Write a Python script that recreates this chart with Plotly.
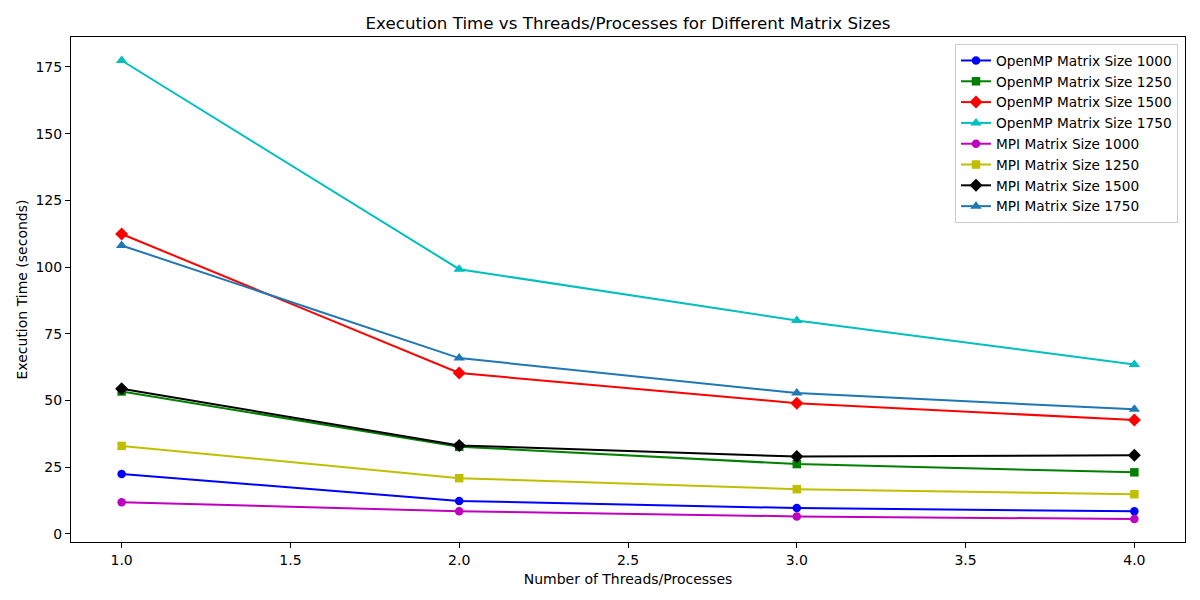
import plotly.graph_objects as go

threads = [1, 2, 3, 4]

omp_1000 = [22.5, 12.4, 9.7, 8.5]
omp_1250 = [53.4, 32.7, 26.2, 23.1]
omp_1500 = [112.4, 60.3, 49.0, 42.7]
omp_1750 = [177.4, 99.2, 80.0, 63.5]
mpi_1000 = [11.9, 8.5, 6.6, 5.6]
mpi_1250 = [33.0, 20.9, 16.8, 14.9]
mpi_1500 = [54.4, 33.2, 29.0, 29.5]
mpi_1750 = [108.1, 65.9, 52.8, 46.7]

series = [
    ("OpenMP Matrix Size 1000", omp_1000, "#0000ff", "circle"),
    ("OpenMP Matrix Size 1250", omp_1250, "#008000", "square"),
    ("OpenMP Matrix Size 1500", omp_1500, "#ff0000", "diamond"),
    ("OpenMP Matrix Size 1750", omp_1750, "#00bfbf", "triangle-up"),
    ("MPI Matrix Size 1000", mpi_1000, "#bf00bf", "circle"),
    ("MPI Matrix Size 1250", mpi_1250, "#bfbf00", "square"),
    ("MPI Matrix Size 1500", mpi_1500, "#000000", "diamond"),
    ("MPI Matrix Size 1750", mpi_1750, "#1f77b4", "triangle-up"),
]

fig = go.Figure()
for name, vals, color, sym in series:
    size = {"diamond": 10, "triangle-up": 10}.get(sym, 8.5)
    fig.add_trace(go.Scatter(
        x=threads, y=vals, name=name, mode="lines+markers",
        line=dict(color=color, width=2),
        marker=dict(symbol=sym, size=size, color=color),
    ))

font = "DejaVu Sans"
W, H = 1192, 592  # page body has an 8px margin
fig.update_layout(
    width=W, height=H,
    paper_bgcolor="white", plot_bgcolor="white",
    margin=dict(l=63, r=15, t=29, b=58, autoexpand=False),
    font=dict(family=font, size=14, color="black"),
    title=dict(text="Execution Time vs Threads/Processes for Different Matrix Sizes",
               x=(63 + (W - 63 - 15) / 2) / W, xanchor="center", y=1 - 15 / H, yanchor="middle",
               font=dict(size=16.7, family=font, color="black")),
    legend=dict(x=0.9937, y=0.986, xanchor="right", yanchor="top",
                bgcolor="rgba(255,255,255,0.8)", bordercolor="#cccccc", borderwidth=1,
                font=dict(size=13.7, family=font), tracegroupgap=0, itemwidth=30),
    showlegend=True,
)
fig.update_xaxes(
    range=[0.85, 4.15], tickvals=[1.0, 1.5, 2.0, 2.5, 3.0, 3.5, 4.0],
    ticktext=["1.0", "1.5", "2.0", "2.5", "3.0", "3.5", "4.0"],
    ticks="outside", ticklen=5, tickcolor="black", showgrid=False, zeroline=False,
    showline=True, linecolor="black", linewidth=1, mirror=True, automargin=False,
    tickfont=dict(size=14, family=font),
    title=dict(text="Number of Threads/Processes", font=dict(size=14, family=font), standoff=7),
)
fig.update_yaxes(
    range=[-3.0, 186.2], tickvals=[0, 25, 50, 75, 100, 125, 150, 175],
    ticks="outside", ticklen=5, tickcolor="black", showgrid=False, zeroline=False,
    showline=True, linecolor="black", linewidth=1, mirror=True, automargin=False,
    tickfont=dict(size=14, family=font),
    title=dict(text="Execution Time (seconds)", font=dict(size=14, family=font), standoff=4),
)

fig.write_html("out.html")
